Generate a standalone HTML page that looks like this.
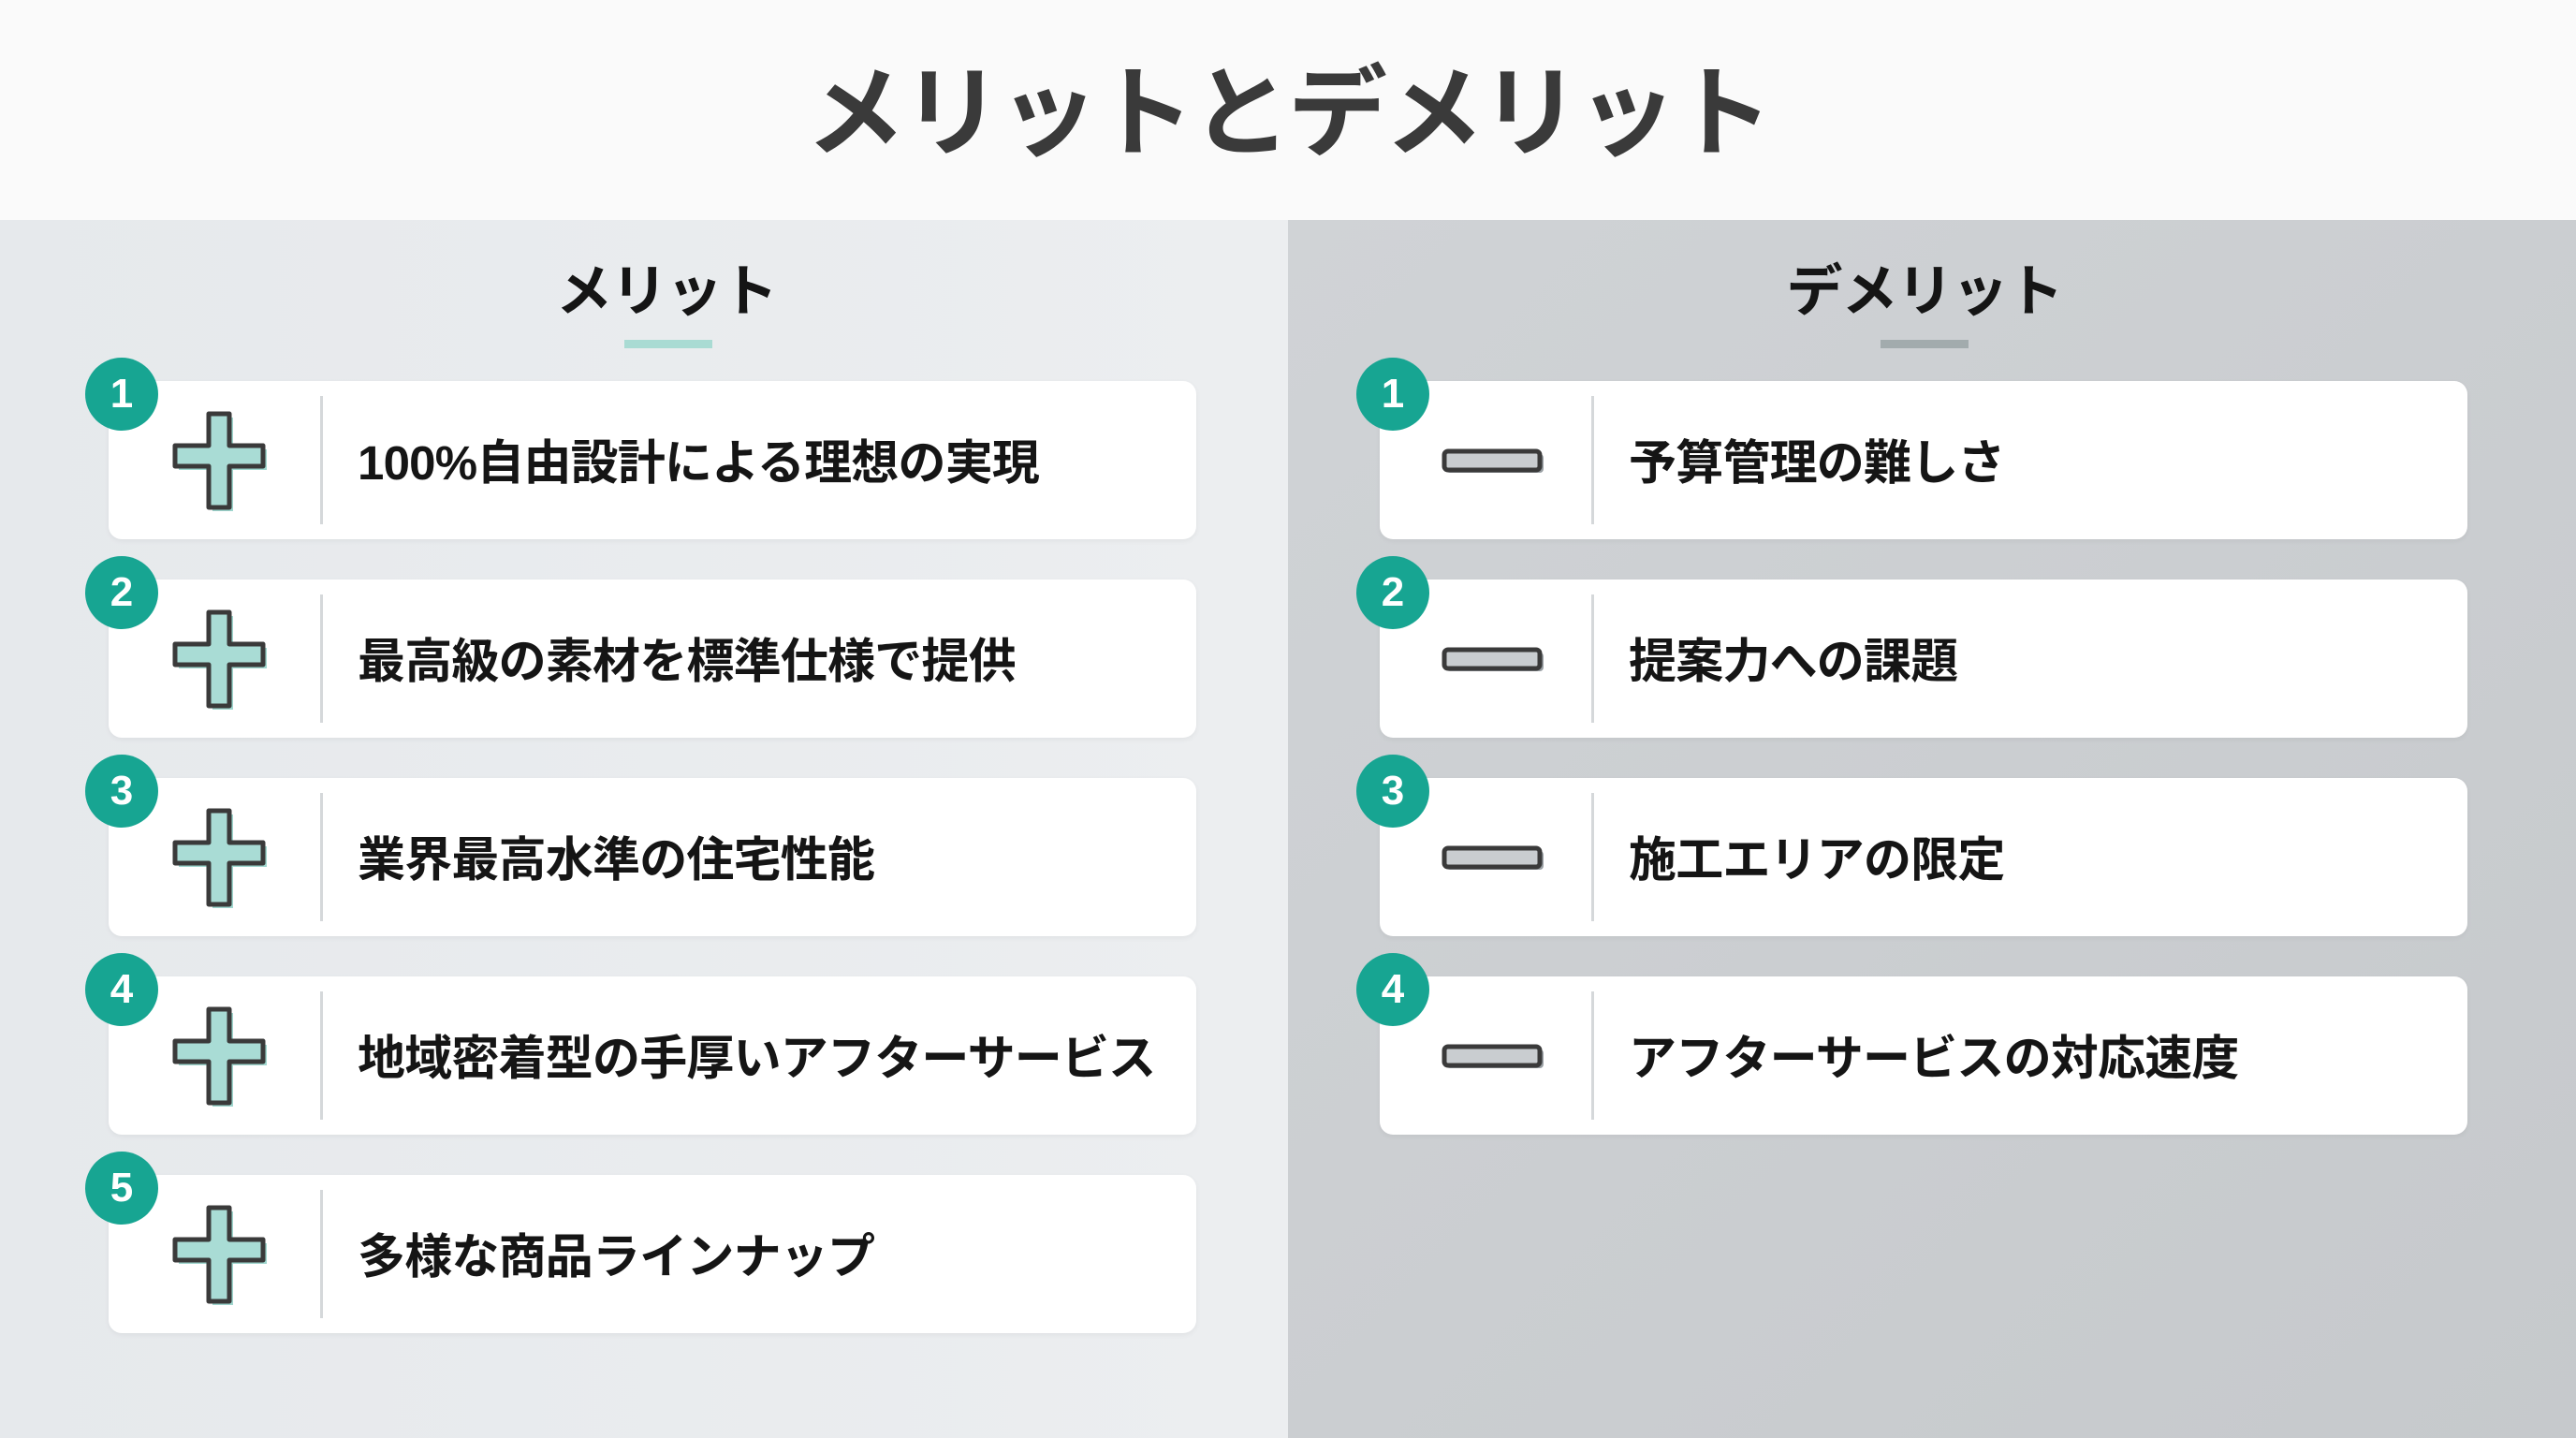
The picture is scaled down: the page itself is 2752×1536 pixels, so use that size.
<!DOCTYPE html>
<html><head><meta charset="utf-8"><style>
*{margin:0;padding:0;box-sizing:border-box}
body{width:2752px;height:1536px;position:relative;overflow:hidden;background:#fafafa;font-family:"Liberation Sans","Noto Sans CJK JP",sans-serif}
.title{position:absolute;left:0;width:2752px;top:42px;text-align:center;font-size:106px;font-weight:700;color:#3a3a3a;line-height:160px;letter-spacing:-3px}
.lp{position:absolute;left:0;top:235px;width:1376px;height:1301px;background:linear-gradient(90deg,#e6e9ec,#eceef0)}
.rp{position:absolute;left:1376px;top:235px;width:1376px;height:1301px;background:linear-gradient(135deg,#d0d3d6,#c6c9cc)}
.h{position:absolute;font-size:60px;font-weight:700;color:#151515;width:600px;text-align:center;top:270px;line-height:84px;letter-spacing:-1px}
.ul{position:absolute;top:363px;height:9px;width:94px}
.card{position:absolute;width:1162px;height:169px;background:#fff;border-radius:14px;box-shadow:0 2px 6px rgba(0,0,0,.05)}
.card .div{position:absolute;left:226px;top:16px;width:3px;height:137px;background:#d5d8da}
.card .t{position:absolute;left:266px;top:3px;line-height:169px;font-size:51px;font-weight:700;color:#151515;white-space:nowrap;letter-spacing:-0.8px}
.card svg{position:absolute}
.b{position:absolute;width:78px;height:78px;border-radius:50%;background:#17a592;color:#fff;font-size:44px;font-weight:700;text-align:center;line-height:78px;margin-left:-25px;margin-top:-25px}
</style></head><body>
<div class="title">メリットとデメリット</div>
<div class="lp"></div><div class="rp"></div>
<div class="h" style="left:412px">メリット</div>
<div class="ul" style="left:667px;background:#a9dbd3"></div>
<div class="h" style="left:1756px">デメリット</div>
<div class="ul" style="left:2009px;background:#a2abad"></div>

<div class="card" style="left:116px;top:407px"><svg style="left:64px;top:31px" width="115" height="112" viewBox="0 0 115 112"><path d="M43 4h22v34h36v22h-36v44h-22v-44h-36v-22h36z" transform="translate(4,4)" fill="#9fd6ce"/><path d="M43 4h22v34h36v22h-36v44h-22v-44h-36v-22h36z" fill="#a9dcd5" stroke="#3a3a3a" stroke-width="5" stroke-linejoin="round"/></svg><div class="div"></div><div class="t">100%自由設計による理想の実現</div></div>
<div class="card" style="left:116px;top:619px"><svg style="left:64px;top:31px" width="115" height="112" viewBox="0 0 115 112"><path d="M43 4h22v34h36v22h-36v44h-22v-44h-36v-22h36z" transform="translate(4,4)" fill="#9fd6ce"/><path d="M43 4h22v34h36v22h-36v44h-22v-44h-36v-22h36z" fill="#a9dcd5" stroke="#3a3a3a" stroke-width="5" stroke-linejoin="round"/></svg><div class="div"></div><div class="t">最高級の素材を標準仕様で提供</div></div>
<div class="card" style="left:116px;top:831px"><svg style="left:64px;top:31px" width="115" height="112" viewBox="0 0 115 112"><path d="M43 4h22v34h36v22h-36v44h-22v-44h-36v-22h36z" transform="translate(4,4)" fill="#9fd6ce"/><path d="M43 4h22v34h36v22h-36v44h-22v-44h-36v-22h36z" fill="#a9dcd5" stroke="#3a3a3a" stroke-width="5" stroke-linejoin="round"/></svg><div class="div"></div><div class="t">業界最高水準の住宅性能</div></div>
<div class="card" style="left:116px;top:1043px"><svg style="left:64px;top:31px" width="115" height="112" viewBox="0 0 115 112"><path d="M43 4h22v34h36v22h-36v44h-22v-44h-36v-22h36z" transform="translate(4,4)" fill="#9fd6ce"/><path d="M43 4h22v34h36v22h-36v44h-22v-44h-36v-22h36z" fill="#a9dcd5" stroke="#3a3a3a" stroke-width="5" stroke-linejoin="round"/></svg><div class="div"></div><div class="t">地域密着型の手厚いアフターサービス</div></div>
<div class="card" style="left:116px;top:1255px"><svg style="left:64px;top:31px" width="115" height="112" viewBox="0 0 115 112"><path d="M43 4h22v34h36v22h-36v44h-22v-44h-36v-22h36z" transform="translate(4,4)" fill="#9fd6ce"/><path d="M43 4h22v34h36v22h-36v44h-22v-44h-36v-22h36z" fill="#a9dcd5" stroke="#3a3a3a" stroke-width="5" stroke-linejoin="round"/></svg><div class="div"></div><div class="t">多様な商品ラインナップ</div></div>

<div class="card" style="left:1474px;top:407px"><svg style="left:66px;top:72px" width="112" height="30" viewBox="0 0 112 30"><rect x="5" y="6" width="104" height="20" rx="4" fill="#9aa0a4"/><rect x="3" y="3" width="102" height="20" rx="4" fill="#c9cdd0" stroke="#3a3a3a" stroke-width="5"/></svg><div class="div"></div><div class="t">予算管理の難しさ</div></div>
<div class="card" style="left:1474px;top:619px"><svg style="left:66px;top:72px" width="112" height="30" viewBox="0 0 112 30"><rect x="5" y="6" width="104" height="20" rx="4" fill="#9aa0a4"/><rect x="3" y="3" width="102" height="20" rx="4" fill="#c9cdd0" stroke="#3a3a3a" stroke-width="5"/></svg><div class="div"></div><div class="t">提案力への課題</div></div>
<div class="card" style="left:1474px;top:831px"><svg style="left:66px;top:72px" width="112" height="30" viewBox="0 0 112 30"><rect x="5" y="6" width="104" height="20" rx="4" fill="#9aa0a4"/><rect x="3" y="3" width="102" height="20" rx="4" fill="#c9cdd0" stroke="#3a3a3a" stroke-width="5"/></svg><div class="div"></div><div class="t">施工エリアの限定</div></div>
<div class="card" style="left:1474px;top:1043px"><svg style="left:66px;top:72px" width="112" height="30" viewBox="0 0 112 30"><rect x="5" y="6" width="104" height="20" rx="4" fill="#9aa0a4"/><rect x="3" y="3" width="102" height="20" rx="4" fill="#c9cdd0" stroke="#3a3a3a" stroke-width="5"/></svg><div class="div"></div><div class="t">アフターサービスの対応速度</div></div>

<div class="b" style="left:116px;top:407px">1</div>
<div class="b" style="left:116px;top:619px">2</div>
<div class="b" style="left:116px;top:831px">3</div>
<div class="b" style="left:116px;top:1043px">4</div>
<div class="b" style="left:116px;top:1255px">5</div>
<div class="b" style="left:1474px;top:407px">1</div>
<div class="b" style="left:1474px;top:619px">2</div>
<div class="b" style="left:1474px;top:831px">3</div>
<div class="b" style="left:1474px;top:1043px">4</div>
</body></html>
